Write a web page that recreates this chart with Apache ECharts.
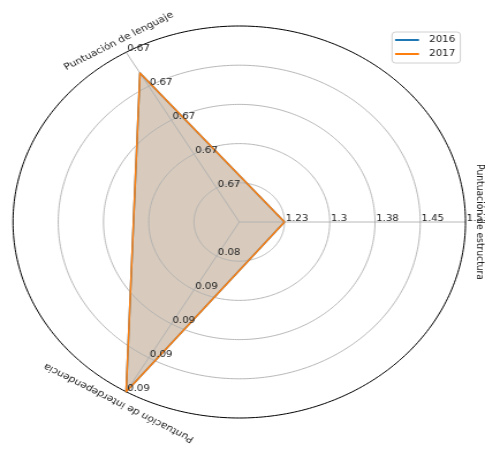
<!DOCTYPE html>
<html>
<head>
<meta charset="utf-8">
<script src="https://cdn.jsdelivr.net/npm/echarts@6/dist/echarts.min.js"></script>
<style>
html,body{margin:0;padding:0;background:#fff;}
#wrap{width:485px;height:451px;overflow:hidden;}
#chart{width:421px;height:451px;transform:scaleX(1.15202);transform-origin:0 0;}
</style>
</head>
<body>
<div id="wrap"><div id="chart"></div></div>
<script>
// ---- data ----
const categories = ['Puntuación de estructura', 'Puntuación de lenguaje', 'Puntuación de interdependencia'];
const axisMin = [1.155, 0.665, 0.082];
const axisMax = [1.53, 0.674, 0.092];
const years = ['2016', '2017'];
const values2016 = [1.23, 0.6729, 0.092];
const values2017 = [1.23, 0.6729, 0.092];
const tickLabelsEstructura = ['1.23', '1.3', '1.38', '1.45', '1.53'];
const tickLabelsLenguaje = ['0.67', '0.67', '0.67', '0.67', '0.67'];
const tickLabelsInterdependencia = ['0.08', '0.09', '0.09', '0.09', '0.09'];

// ---- helpers ----
const tickLabels = [tickLabelsEstructura, tickLabelsLenguaje, tickLabelsInterdependencia];
const yearValues = [values2016, values2017];
const colors = ['#1f77b4', '#ff7f0e'];
const fillColors = ['rgba(31,119,180,0.22)', 'rgba(255,127,14,0.22)'];
const FONT = 'DejaVu Sans';
const FS = 8.8;
const FS_NAME = 9.2;
const n = categories.length;
const angleOf = i => 2 * Math.PI * i / n;
const norm = (v, i) => (v - axisMin[i]) / (axisMax[i] - axisMin[i]);
const toXY = (r, a) => [r * Math.cos(a), r * Math.sin(a)];
const ringCount = tickLabelsEstructura.length;
const rings = tickLabelsEstructura.map((_, k) => (k + 1) / ringCount);
const polyPoints = vals => vals.map((v, i) => toXY(norm(v, i), angleOf(i)));

function ellipsePts(api, r) {
  const pts = [];
  for (let k = 0; k <= 360; k++) {
    const a = k * Math.PI / 180;
    pts.push(api.coord(toXY(r, a)));
  }
  return pts;
}

const series = [];
// fills
yearValues.forEach((vals, yi) => {
  series.push({
    type: 'custom', name: 'fill' + years[yi], z: 1, silent: true,
    data: [[0, 0]],
    renderItem: (params, api) => ({
      type: 'polygon',
      shape: { points: polyPoints(vals).map(p => api.coord(p)) },
      style: { fill: fillColors[yi], stroke: null }
    })
  });
});
// grid (rings, spokes, frame)
series.push({
  type: 'custom', name: 'grid', z: 2, silent: true,
  data: [[0, 0]],
  renderItem: (params, api) => {
    const children = [];
    rings.forEach(r => {
      if (r < 1) {
        children.push({ type: 'polyline', shape: { points: ellipsePts(api, r) },
          style: { stroke: '#b0b0b0', lineWidth: 0.9, fill: null } });
      }
    });
    for (let i = 0; i < n; i++) {
      const p0 = api.coord([0, 0]);
      const p1 = api.coord(toXY(1, angleOf(i)));
      children.push({ type: 'line', shape: { x1: p0[0], y1: p0[1], x2: p1[0], y2: p1[1] },
        style: { stroke: '#b0b0b0', lineWidth: 0.9 } });
    }
    children.push({ type: 'polyline', shape: { points: ellipsePts(api, 1) },
      style: { stroke: '#000', lineWidth: 1, fill: null } });
    return { type: 'group', children };
  }
});
// lines
yearValues.forEach((vals, yi) => {
  const pts = polyPoints(vals);
  series.push({
    type: 'line', name: years[yi], z: 3,
    data: pts.concat([pts[0]]),
    showSymbol: false, symbol: 'none', clip: false,
    lineStyle: { color: colors[yi], width: 1.5, join: 'round' },
    itemStyle: { color: colors[yi] },
    silent: true, animation: false
  });
});
// labels
series.push({
  type: 'custom', name: 'labels', z: 4, silent: true,
  data: [[0, 0]],
  renderItem: (params, api) => {
    const children = [];
    for (let i = 0; i < n; i++) {
      rings.forEach((r, k) => {
        const p = api.coord(toXY(r, angleOf(i)));
        children.push({ type: 'text', x: p[0] + 1, y: p[1] + 1,
          style: { text: tickLabels[i][k], font: FS + 'px "' + FONT + '"', fill: '#222',
            align: 'left', verticalAlign: 'bottom' } });
      });
      const q = api.coord(toXY(1.065, angleOf(i)));
      children.push({ type: 'text', x: q[0], y: q[1], rotation: angleOf(i) - Math.PI / 2,
        style: { text: categories[i], font: FS_NAME + 'px "' + FONT + '"', fill: '#222',
          align: 'center', verticalAlign: 'middle' } });
    }
    return { type: 'group', children };
  }
});

const chart = echarts.init(document.getElementById('chart'), null, { renderer: 'canvas' });
chart.setOption({
  animation: false,
  backgroundColor: '#fff',
  grid: { left: 11.28, right: 16.93, top: 26, bottom: 33 },
  xAxis: { type: 'value', min: -1, max: 1, show: false },
  yAxis: { type: 'value', min: -1, max: 1, show: false },
  legend: {
    data: years.map((y, yi) => ({ name: y, icon: 'rect', itemStyle: { color: colors[yi] } })),
    orient: 'vertical', left: 340.3, top: 32,
    padding: [2, 4.3, 3, 2.6], itemGap: 2,
    itemWidth: 20.8, itemHeight: 2,
    borderColor: '#d0d0d0', borderWidth: 1, borderRadius: 3,
    backgroundColor: 'rgba(255,255,255,0.8)',
    textStyle: { fontFamily: FONT, fontSize: 9, color: '#222', lineHeight: 12, padding: [0, 0, 0, 3.7] },
    selectedMode: false
  },
  series
});
</script>
</body>
</html>
